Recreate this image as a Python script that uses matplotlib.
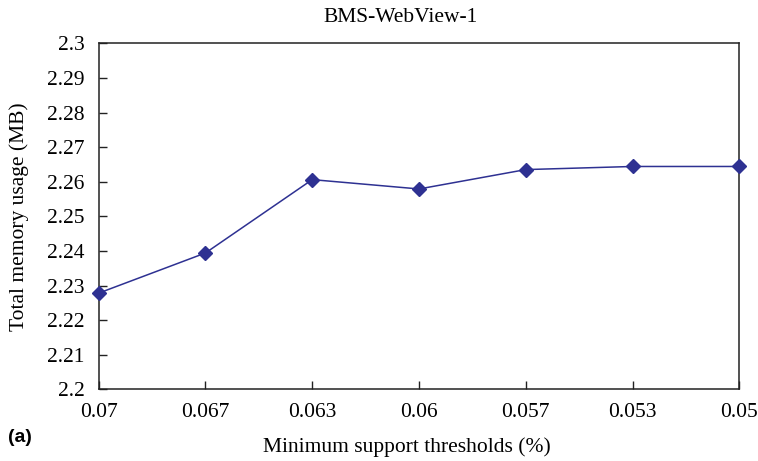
import matplotlib
matplotlib.use("Agg")
import matplotlib.pyplot as plt

categories = ["0.07", "0.067", "0.063", "0.06", "0.057", "0.053", "0.05"]
memory_mb = [2.2278, 2.2394, 2.2606, 2.2579, 2.2635, 2.2644, 2.2644]
y_ticks = [2.2, 2.21, 2.22, 2.23, 2.24, 2.25, 2.26, 2.27, 2.28, 2.29, 2.3]
y_tick_labels = ["2.2", "2.21", "2.22", "2.23", "2.24", "2.25", "2.26", "2.27", "2.28", "2.29", "2.3"]

W, H = 758, 461
fig = plt.figure(figsize=(W / 100, H / 100), dpi=100)
left, right, top, bottom = 98.7, 739.3, 43.3, 389.3
ax = fig.add_axes([left / W, 1 - bottom / H, (right - left) / W, (bottom - top) / H])

serif = ["Liberation Serif", "DejaVu Serif"]
fs = 15.5
color = "#2E3192"

x = list(range(len(categories)))
ax.plot(x, memory_mb, color=color, linewidth=1.1, marker="D", markersize=7.3,
        markerfacecolor=color, markeredgecolor=color, clip_on=False, zorder=3)

ax.set_xlim(0, len(categories) - 1)
ax.set_ylim(2.2, 2.3)
ax.set_xticks(x)
ax.set_xticklabels(categories, fontfamily=serif, fontsize=fs)
ax.set_yticks(y_ticks)
ax.set_yticklabels(y_tick_labels, fontfamily=serif, fontsize=fs)
ax.tick_params(axis="both", direction="in", length=6, width=1.0, color="#222222")
ax.tick_params(axis="x", pad=10)
ax.tick_params(axis="y", pad=10)
for s in ax.spines.values():
    s.set_linewidth(1.1)
    s.set_color("#222222")

fig.text(401 / W, 1 - 17 / H, "BMS-WebView-1", fontfamily=serif, fontsize=fs,
         ha="center", va="center")
fig.text(407 / W, 1 - 447 / H, "Minimum support thresholds (%)", fontfamily=serif,
         fontsize=fs, ha="center", va="center")
fig.text(19.5 / W, 1 - 216.5 / H, "Total memory usage (MB)", fontfamily=serif,
         fontsize=fs, ha="center", va="center", rotation=90)
fig.text(8 / W, 1 - 437 / H, "(a)", fontfamily=["Liberation Sans", "DejaVu Sans"],
         fontweight="bold", fontsize=14, ha="left", va="center")

fig.savefig("out.png", dpi=100)
